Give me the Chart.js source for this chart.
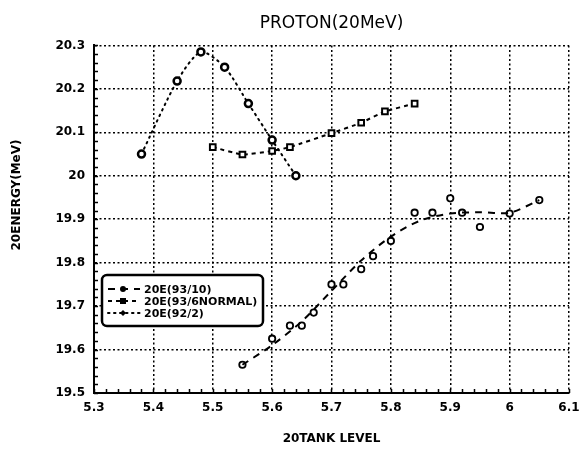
<!DOCTYPE html>
<html>
<head>
<meta charset="utf-8">
<script src="https://cdn.jsdelivr.net/npm/chart.js@4/dist/chart.umd.min.js"></script>
<style>
  html, body { margin: 0; padding: 0; background: #fff; }
  #wrap { width: 580px; height: 451px; }
</style>
</head>
<body>
<div id="wrap"><canvas id="chartEnergy" width="580" height="451"></canvas></div>
<script>
// axis ticks
const xTicks = [5.3, 5.4, 5.5, 5.6, 5.7, 5.8, 5.9, 6.0, 6.1]
const xTickLabels = ['5.3', '5.4', '5.5', '5.6', '5.7', '5.8', '5.9', '6', '6.1']
const yTicks = [19.5, 19.6, 19.7, 19.8, 19.9, 20.0, 20.1, 20.2, 20.3]
const yTickLabels = ['19.5', '19.6', '19.7', '19.8', '19.9', '20', '20.1', '20.2', '20.3']

// 20E(93/10) measured points
const e9310X = [5.55, 5.6, 5.63, 5.65, 5.67, 5.7, 5.72, 5.75, 5.77, 5.8, 5.84, 5.87, 5.9, 5.92, 5.95, 6.0, 6.05]
const e9310Y = [19.565, 19.625, 19.655, 19.655, 19.685, 19.75, 19.75, 19.785, 19.815, 19.85, 19.915, 19.915, 19.948, 19.915, 19.882, 19.913, 19.944]
// 20E(93/10) dashed curve as drawn on the sheet
const e9310CurveX = [5.55, 5.6, 5.65, 5.7, 5.75, 5.8, 5.85, 5.9, 5.95, 6.0, 6.05]
const e9310CurveY = [19.565, 19.61, 19.665, 19.735, 19.805, 19.86, 19.897, 19.913, 19.916, 19.915, 19.944]

// 20E(93/6NORMAL)
const e936X = [5.5, 5.55, 5.6, 5.63, 5.7, 5.75, 5.79, 5.84]
const e936Y = [20.066, 20.049, 20.057, 20.066, 20.098, 20.122, 20.148, 20.166]

// 20E(92/2)
const e922X = [5.38, 5.44, 5.48, 5.52, 5.56, 5.6, 5.64]
const e922Y = [20.05, 20.218, 20.285, 20.25, 20.166, 20.082, 20.0]

const seriesNames = ['20E(93/10)', '20E(93/6NORMAL)', '20E(92/2)']

function pts(xs, ys) {
  return xs.map((x, i) => ({x: x, y: ys[i]}))
}

const FONT = "'DejaVu Sans', sans-serif"

// small ticks along left and bottom axis + y axis title
const decoPlugin = {
  id: 'deco',
  afterDraw(chart) {
    const ctx = chart.ctx
    const xs = chart.scales.x
    const ys = chart.scales.y
    const area = chart.chartArea
    ctx.save()
    ctx.strokeStyle = '#000'
    ctx.lineWidth = 1.5
    ctx.beginPath()
    for (let v = 5.3; v <= 6.1 + 1e-9; v += 0.02) {
      const px = Math.round(xs.getPixelForValue(v)) + 0.5
      ctx.moveTo(px, area.bottom)
      ctx.lineTo(px, area.bottom - 4)
    }
    for (let v = 19.5; v <= 20.3 + 1e-9; v += 0.02) {
      const py = Math.round(ys.getPixelForValue(v)) + 0.5
      ctx.moveTo(area.left, py)
      ctx.lineTo(area.left + 4, py)
    }
    ctx.stroke()

    ctx.translate(17, 195)
    ctx.rotate(-Math.PI / 2)
    ctx.fillStyle = '#000'
    ctx.font = 'bold 12px ' + FONT
    ctx.textAlign = 'center'
    ctx.textBaseline = 'middle'
    ctx.fillText('20ENERGY(MeV)', 0, 0)
    ctx.restore()
  }
}

// boxed legend in the lower left of the plot
const legendPlugin = {
  id: 'boxLegend',
  afterDatasetsDraw(chart) {
    const ctx = chart.ctx
    const area = chart.chartArea
    const left = area.left + 8
    const top = 275
    const w = 161
    const h = 51
    const entries = [
      {ds: chart.data.datasets[0], marker: 'circle'},
      {ds: chart.data.datasets[2], marker: 'rect'},
      {ds: chart.data.datasets[3], marker: 'diamond'}
    ]
    ctx.save()
    ctx.fillStyle = '#fff'
    ctx.strokeStyle = '#000'
    ctx.lineWidth = 2.5
    ctx.beginPath()
    ctx.roundRect(left, top, w, h, 5)
    ctx.fill()
    ctx.stroke()

    ctx.font = 'bold 11px ' + FONT
    ctx.textBaseline = 'middle'
    ctx.fillStyle = '#000'
    entries.forEach((e, i) => {
      const y = top + 14 + i * 12
      ctx.strokeStyle = '#000'
      ctx.lineWidth = 2
      ctx.lineCap = e.ds.borderCapStyle || 'butt'
      ctx.setLineDash(e.ds.borderDash || [])
      ctx.beginPath()
      ctx.moveTo(left + 6, y)
      ctx.lineTo(left + 38, y)
      ctx.stroke()
      ctx.setLineDash([])
      const mx = left + 21
      ctx.beginPath()
      if (e.marker === 'circle') {
        ctx.arc(mx, y, 3, 0, Math.PI * 2)
      } else if (e.marker === 'rect') {
        ctx.rect(mx - 3, y - 3, 6, 6)
      } else {
        ctx.moveTo(mx, y - 3)
        ctx.lineTo(mx + 3, y)
        ctx.lineTo(mx, y + 3)
        ctx.lineTo(mx - 3, y)
        ctx.closePath()
      }
      ctx.fill()
      ctx.fillText(seriesNames[i], left + 42, y + 1)
    })
    ctx.restore()
  }
}

new Chart(document.getElementById('chartEnergy'), {
  type: 'scatter',
  data: {
    datasets: [
      {
        label: seriesNames[0] + ' curve',
        data: pts(e9310CurveX, e9310CurveY),
        showLine: true,
        borderColor: '#000',
        borderWidth: 2,
        borderDash: [7, 6],
        pointRadius: 0,
        tension: 0.3
      },
      {
        label: seriesNames[0],
        data: pts(e9310X, e9310Y),
        showLine: false,
        pointStyle: 'circle',
        pointRadius: 3.2,
        pointBorderWidth: 1.8,
        pointBorderColor: '#000',
        pointBackgroundColor: '#fff'
      },
      {
        label: seriesNames[1],
        data: pts(e936X, e936Y),
        showLine: true,
        borderColor: '#000',
        borderWidth: 2,
        borderDash: [4, 4],
        tension: 0.15,
        pointStyle: 'rect',
        pointRadius: 4,
        pointBorderWidth: 2,
        pointBorderColor: '#000',
        pointBackgroundColor: '#fff'
      },
      {
        label: seriesNames[2],
        data: pts(e922X, e922Y),
        showLine: true,
        borderColor: '#000',
        borderWidth: 2,
        borderDash: [1.5, 4.5],
        borderCapStyle: 'round',
        tension: 0.25,
        pointStyle: 'circle',
        pointRadius: 3.5,
        pointBorderWidth: 2.5,
        pointBorderColor: '#000',
        pointBackgroundColor: '#fff'
      }
    ]
  },
  options: {
    responsive: false,
    animation: false,
    devicePixelRatio: 1,
    layout: {padding: {top: 0, right: 11, bottom: 0, left: 0}},
    plugins: {
      legend: {display: false},
      tooltip: {enabled: false},
      title: {
        display: true,
        fullSize: false,
        text: 'PROTON(20MeV)',
        color: '#000',
        font: {family: FONT, size: 17, weight: 'normal'},
        padding: {top: 13, bottom: 12}
      }
    },
    scales: {
      x: {
        type: 'linear',
        min: 5.3,
        max: 6.1,
        afterBuildTicks: s => { s.ticks = xTicks.map(v => ({value: v})) },
        afterFit: s => { s.height = 58; s.paddingLeft = 0; s.paddingRight = 0 },
        ticks: {
          callback: (v, i) => xTickLabels[i],
          color: '#000',
          padding: 8,
          maxRotation: 0,
          font: {family: FONT, size: 12, weight: 'bold'}
        },
        grid: {color: '#000', lineWidth: 1.5, drawTicks: false},
        border: {display: true, color: '#000', width: 2, dash: [2, 2.5]},
        title: {
          display: true,
          text: '20TANK LEVEL',
          color: '#000',
          font: {family: FONT, size: 12, weight: 'bold'},
          padding: {top: 0, bottom: 5}
        }
      },
      y: {
        type: 'linear',
        min: 19.5,
        max: 20.3,
        afterBuildTicks: s => { s.ticks = yTicks.map(v => ({value: v})) },
        afterFit: s => { s.width = 94; s.paddingTop = 0; s.paddingBottom = 0 },
        ticks: {
          callback: (v, i) => yTickLabels[i],
          color: '#000',
          padding: 9,
          font: {family: FONT, size: 12, weight: 'bold'}
        },
        grid: {color: '#000', lineWidth: 1.5, drawTicks: false},
        border: {display: true, color: '#000', width: 2, dash: [2, 2.5]}
      }
    }
  },
  plugins: [decoPlugin, legendPlugin]
})
</script>
</body>
</html>
